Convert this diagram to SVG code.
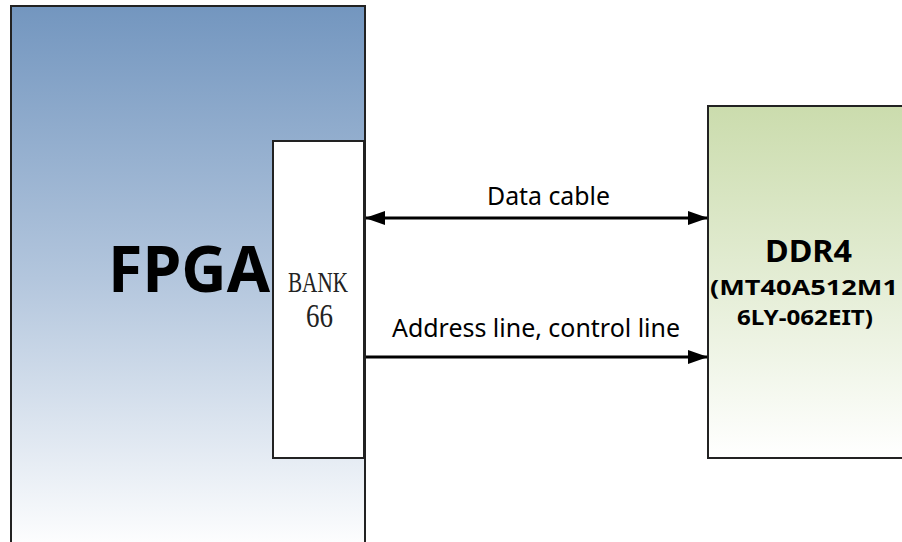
<svg xmlns="http://www.w3.org/2000/svg" width="902" height="542" viewBox="0 0 902 542">
<defs>
<linearGradient id="gFpga" x1="0" y1="0" x2="0" y2="1">
<stop offset="0" stop-color="#7396BF"/>
<stop offset="0.5" stop-color="#B3C6DD"/>
<stop offset="1" stop-color="#FFFFFF"/>
</linearGradient>
<linearGradient id="gDdr" x1="0" y1="0" x2="0" y2="1">
<stop offset="0" stop-color="#CBDCAD"/>
<stop offset="0.5" stop-color="#E4EDD5"/>
<stop offset="1" stop-color="#FFFFFF"/>
</linearGradient>
<marker id="ah" viewBox="0 0 20 14" refX="19" refY="7" markerWidth="20" markerHeight="14" markerUnits="userSpaceOnUse" orient="auto-start-reverse">
<path d="M0,0 L20,7 L0,14 Z" fill="#000"/>
</marker>
<style>
.box{stroke:#222;stroke-width:2}
.lbl{font-family:"Noto Sans","Open Sans","DejaVu Sans",sans-serif;fill:#000}
.serif{font-family:"Liberation Serif","DejaVu Serif",serif;fill:#222}
.conn{stroke:#000;stroke-width:3;fill:none}
</style>
</defs>
<g id="fpga">
<rect class="box" x="11" y="6" width="354" height="545" fill="url(#gFpga)"/>
<text class="lbl" x="108" y="292" font-size="64" font-weight="bold" textLength="162" lengthAdjust="spacingAndGlyphs">FPGA</text>
</g>
<g id="bank66">
<rect class="box" x="273" y="141" width="91" height="317" fill="#FFFFFF" stroke-width="1.5"/>
<text class="serif" x="288" y="292" font-size="30" textLength="60" lengthAdjust="spacingAndGlyphs">BANK</text>
<text class="serif" x="306" y="327" font-size="34" textLength="27" lengthAdjust="spacingAndGlyphs">66</text>
</g>
<g id="ddr4">
<rect class="box" x="708" y="106" width="204" height="352" fill="url(#gDdr)" stroke-width="1.5"/>
<text class="lbl" x="765" y="262" font-size="30" font-weight="bold" textLength="87" lengthAdjust="spacingAndGlyphs">DDR4</text>
<text class="lbl" x="710" y="295" font-size="22" font-weight="bold" textLength="188" lengthAdjust="spacingAndGlyphs">(MT40A512M1</text>
<text class="lbl" x="737" y="325" font-size="22" font-weight="bold" textLength="136" lengthAdjust="spacingAndGlyphs">6LY-062EIT)</text>
</g>
<g id="connectors">
<line class="conn" x1="366" y1="218" x2="707" y2="218" marker-start="url(#ah)" marker-end="url(#ah)"/>
<text class="lbl" x="487" y="205" font-size="25" textLength="123" lengthAdjust="spacingAndGlyphs">Data cable</text>
<line class="conn" x1="366" y1="357" x2="707" y2="357" marker-end="url(#ah)"/>
<text class="lbl" x="392" y="337" font-size="25" textLength="288" lengthAdjust="spacingAndGlyphs">Address line, control line</text>
</g>
</svg>
